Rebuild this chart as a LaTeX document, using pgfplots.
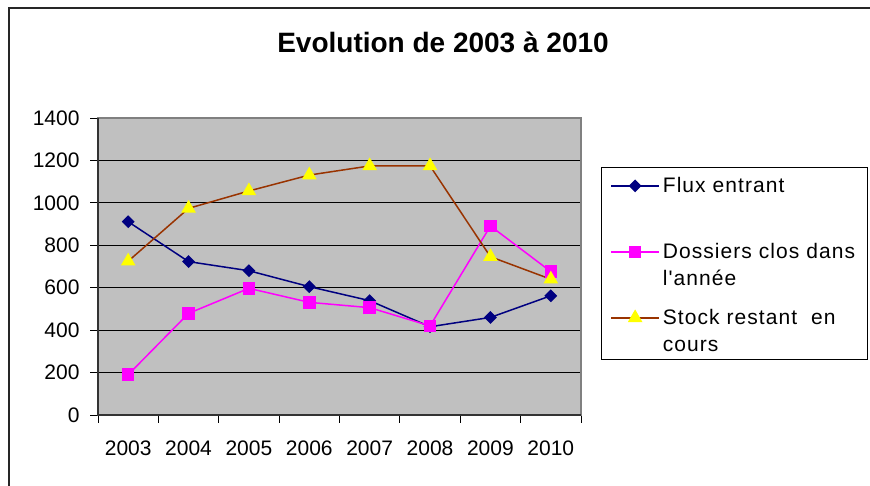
\documentclass[border=0pt]{standalone}
\usepackage{fontspec}
\setmainfont{Liberation Sans}
\newfontfamily\legfont[LetterSpace=5]{Liberation Sans}
\usepackage{pgfplots}
\pgfplotsset{compat=1.18}
\definecolor{plotbg}{HTML}{C0C0C0}
\definecolor{fluxc}{HTML}{000080}
\definecolor{dossc}{HTML}{FF00FF}
\definecolor{stockc}{HTML}{993300}
\definecolor{stockm}{HTML}{FFFF00}
\newcommand{\rowF}{\rule[-8pt]{0pt}{27.5pt}}
\newcommand{\rowA}{\rule[-8pt]{0pt}{33.5pt}}
\newcommand{\rowB}{\rule[-8pt]{0pt}{45.5pt}}
\newcommand{\rowL}{\rule[-16pt]{0pt}{41.5pt}}
\begin{document}
\begin{tikzpicture}[x=1pt,y=1pt]
\useasboundingbox (0,0) rectangle (870,486);
\fill[white] (0,0) rectangle (870,486);
\draw[line width=2pt, black!85] (9,0) -- (9,478) -- (871,478);
\node[font=\fontsize{28}{34}\selectfont\bfseries, anchor=base] at (443,433) {Evolution de 2003 à 2010};
\begin{axis}[
  at={(98pt,71pt)}, anchor=south west,
  scale only axis, width=483pt, height=297pt,
  xmin=2002.5, xmax=2010.5, ymin=0, ymax=1400,
  xtick={2003,...,2010},
  minor xtick={2002.5,2003.5,2004.5,2005.5,2006.5,2007.5,2008.5,2009.5,2010.5},
  ytick={0,200,...,1400},
  tick pos=left,
  /pgf/number format/1000 sep={},
  /pgf/number format/assume math mode=true,
  tick align=outside,
  major x tick style={draw=none},
  major tick length=8pt, minor tick length=8pt,
  tick style={black, line width=0.8pt},
  ymajorgrids, grid style={black, line width=1pt},
  axis background/.style={fill=plotbg},
  axis line style={draw=gray, line width=1.5pt},
  ticklabel style={font=\fontsize{21}{25}\selectfont},
  yticklabel style={xshift=-7pt},
  xticklabel style={yshift=-14pt},
  legend cell align=left,
  legend style={at={(1.0414,0.835)}, anchor=north west, draw=black, line width=0.8pt,
    font=\fontsize{21}{27.5}\legfont, inner xsep=9pt, inner ysep=6pt,
    row sep=0pt,
    nodes={text width=193pt, align=left, inner xsep=3pt, inner ysep=0pt, anchor=base west}},
  legend image code/.code={
    \draw[mark repeat=2, mark phase=2, #1] plot coordinates {(0pt,7pt) (24pt,7pt) (48pt,7pt)};
  },
  clip=false,
]
\addplot[color=fluxc, line width=1.5pt, mark=square*, mark size=3.8pt, mark options={fill=fluxc, draw=fluxc, rotate=45}]
  coordinates {(2003,911) (2004,723) (2005,680) (2006,605) (2007,539) (2008,416) (2009,460) (2010,562)};
\addlegendentry{\rowF\mbox{Flux entrant}}
\addlegendimage{empty legend}
\addlegendentry{\rowA\mbox{}}
\addplot[color=dossc, line width=1.5pt, mark=square*, mark size=5.5pt, mark options={fill=dossc, draw=dossc}]
  coordinates {(2003,190) (2004,479) (2005,597) (2006,531) (2007,506) (2008,420) (2009,891) (2010,676)};
\addlegendentry{\rowB\mbox{Dossiers clos dans}}
\addlegendimage{empty legend}
\addlegendentry{\rowA\mbox{l'année}}
\addplot[color=stockc, line width=1.5pt, mark=triangle*, mark size=7pt, mark options={fill=stockm, draw=stockm}]
  coordinates {(2003,725) (2004,974) (2005,1056) (2006,1131) (2007,1174) (2008,1174) (2009,746) (2010,640)};
\addlegendentry{\rowB\mbox{Stock restant\ \ en}}
\addlegendimage{empty legend}
\addlegendentry{\rowL\mbox{cours}}
\draw[black!80, line width=1.5pt] (rel axis cs:0,1) -- (rel axis cs:0,0) -- (rel axis cs:1,0);
\end{axis}
\end{tikzpicture}
\end{document}
